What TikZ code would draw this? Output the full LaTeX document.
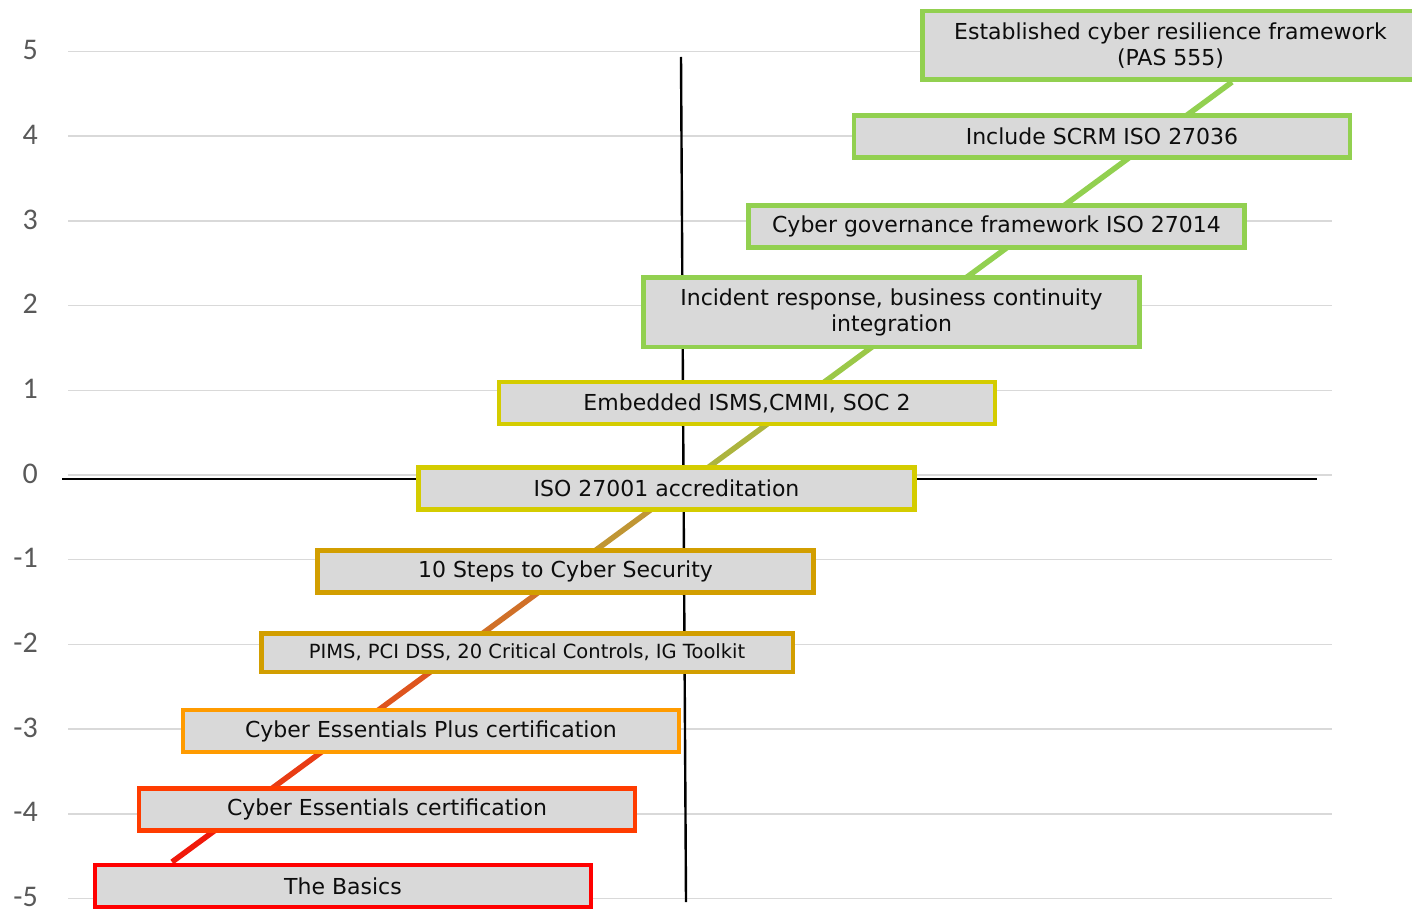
\documentclass[tikz,border=0pt]{standalone}
\usepackage{fontspec}
\setmainfont{DejaVu Sans}
\newfontfamily\axisfont{Carlito}
\definecolor{gridc}{RGB}{217,217,217}
\definecolor{boxfill}{RGB}{217,217,217}
\definecolor{tickc}{RGB}{89,89,89}
\definecolor{cgreen}{RGB}{146,208,80}
\definecolor{cyellow}{RGB}{212,204,0}
\definecolor{cgold}{RGB}{210,158,0}
\definecolor{corange}{RGB}{255,155,0}
\definecolor{credorange}{RGB}{255,60,0}
\definecolor{cred}{RGB}{255,0,0}
\definecolor{s1}{RGB}{240,25,10}
\definecolor{s2}{RGB}{232,60,20}
\definecolor{s3}{RGB}{222,85,30}
\definecolor{s4}{RGB}{208,112,40}
\definecolor{s5}{RGB}{192,150,52}
\definecolor{s6}{RGB}{172,180,62}
\definecolor{s7}{RGB}{155,200,72}
\definecolor{s8}{RGB}{146,208,80}
\begin{document}
\begin{tikzpicture}[x=1pt,y=-1pt,
  grid/.style={draw=gridc,line width=1.5pt},
  axis/.style={draw=black,line width=2.4pt},
  tick/.style={anchor=east,text=tickc,font=\axisfont\fontsize{30}{30}\selectfont,inner sep=0pt},
  stepbox/.style={draw=#1,fill=boxfill,line width=4.5pt,minimum width=496,minimum height=42,
    inner sep=0pt,align=center,text=black!95,font=\fontsize{22}{26}\selectfont},
  diag/.style={line width=5.5pt,draw=#1}
]
\useasboundingbox (0,0) rectangle (1412,909);
\clip (0,0) rectangle (1412,909);
% gridlines and tick labels
\foreach \v/\n in {5/a,4/b,3/c,2/d,1/e,0/f,-1/g,-2/h,-3/i,-4/j,-5/k}{
  \pgfmathsetmacro{\yy}{475-84.7*\v}
  \draw[grid] (68,\yy) -- (1332,\yy);
  \node[tick] (tick\n) at (38,\yy-1.5) {\v};
}
% axes
\coordinate (hx1) at (62,479);
\coordinate (hx2) at (1317,479);
\coordinate (vy1) at (681,57);
\coordinate (vy2) at (686,902);
\draw[axis] (hx1) -- (hx2);
\draw[axis] (vy1) -- (vy2);
% diagonal progression line
\coordinate (d0) at (172,862);
\coordinate (d1) at (243.3,809.5);
\coordinate (d2) at (350.0,731);
\coordinate (d3) at (456.7,652.5);
\coordinate (d4) at (566.8,571.5);
\coordinate (d5) at (679.6,488.5);
\coordinate (d6) at (795.8,403);
\coordinate (d7) at (919.5,312);
\coordinate (d8) at (1035.6,226.5);
\coordinate (d9) at (1157.9,136.5);
\coordinate (d10) at (1232,82);
\draw[diag=s1] (d0) -- (d1);
\draw[diag=s2] (d1) -- (d2);
\draw[diag=s3] (d2) -- (d3);
\draw[diag=s4] (d3) -- (d4);
\draw[diag=s5] (d4) -- (d5);
\draw[diag=s6] (d5) -- (d6);
\draw[diag=s7] (d6) -- (d7);
\draw[diag=s8] (d7) -- (d10);
% boxes
\node[stepbox=cgreen,minimum height=68.5] (b1) at (1170.5,45.5) {Established cyber resilience framework\\(PAS 555)};
\node[stepbox=cgreen] (b2) at (1102,136.5) {Include SCRM ISO 27036};
\node[stepbox=cgreen] (b3) at (996.5,226.5) {Cyber governance framework ISO 27014};
\node[stepbox=cgreen,minimum height=69.5] (b4) at (891.5,312) {Incident response, business continuity\\integration};
\node[stepbox=cyellow] (b5) at (747,403) {Embedded ISMS,CMMI, SOC 2};
\node[stepbox=cyellow] (b6) at (666.5,488.5) {ISO 27001 accreditation};
\node[stepbox=cgold] (b7) at (565.5,571.5) {10 Steps to Cyber Security};
\node[stepbox=cgold,minimum width=531.5,minimum height=38.5,font=\fontsize{19.5}{22}\selectfont] (b8) at (527,652.5) {PIMS, PCI DSS, 20 Critical Controls, IG Toolkit};
\node[stepbox=corange] (b9) at (431,731) {Cyber Essentials Plus certification};
\node[stepbox=credorange] (b10) at (387,809.5) {Cyber Essentials certification};
\node[stepbox=cred] (b11) at (343,886) {The Basics};
\end{tikzpicture}
\end{document}
